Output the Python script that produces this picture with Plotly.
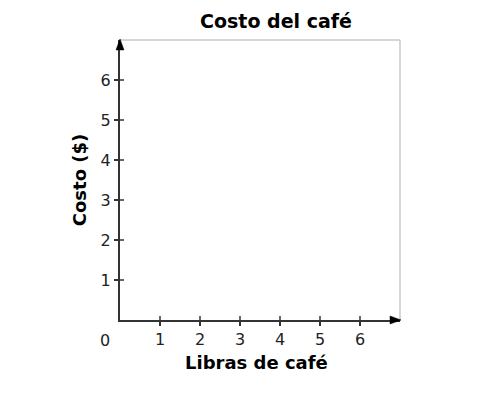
import plotly.graph_objects as go

x_ticks = [1, 2, 3, 4, 5, 6]
y_ticks = [1, 2, 3, 4, 5, 6]
x_range = [0, 7]
y_range = [0, 7]
title = "Costo del café"
x_title = "Libras de café"
y_title = "Costo ($)"

FONT = "DejaVu Sans, Verdana, sans-serif"
AX = "#333333"

fig = go.Figure()
fig.add_trace(go.Scatter(x=[None], y=[None], showlegend=False, hoverinfo="skip"))

shapes = []
# gray border top/right (paper refs avoid clipping)
shapes.append(dict(type="line", xref="paper", yref="paper", x0=0, x1=1, y0=1, y1=1,
                   line=dict(color="#c8c8c8", width=1.5)))
shapes.append(dict(type="line", xref="paper", yref="paper", x0=1, x1=1, y0=0, y1=1,
                   line=dict(color="#c8c8c8", width=1.5)))
# inside halves of crossing ticks
for v in x_ticks:
    shapes.append(dict(type="line", xref="x", yref="paper", ysizemode="pixel", yanchor=0,
                       x0=v, x1=v, y0=0, y1=4, line=dict(color=AX, width=1.5)))
for v in y_ticks:
    shapes.append(dict(type="line", xref="paper", yref="y", xsizemode="pixel", xanchor=0,
                       x0=0, x1=4, y0=v, y1=v, line=dict(color=AX, width=1.5)))
# arrowheads
shapes.append(dict(type="path", xref="paper", yref="paper", xsizemode="pixel", ysizemode="pixel",
                   xanchor=1, yanchor=0, path="M 1 0 L -10 4 L -10 -4 Z",
                   fillcolor="black", line=dict(color="black", width=0.5)))
shapes.append(dict(type="path", xref="paper", yref="paper", xsizemode="pixel", ysizemode="pixel",
                   xanchor=0, yanchor=1, path="M 0 1 L -4 -10 L 4 -10 Z",
                   fillcolor="black", line=dict(color="black", width=0.5)))

fig.update_layout(
    width=500, height=410,
    margin=dict(l=120, r=100, t=40, b=90),
    paper_bgcolor="white", plot_bgcolor="white",
    font=dict(family=FONT, size=16, color="#222222"),
    showlegend=False,
    title=dict(text="<b>" + title + "</b>", x=276 / 500, xanchor="center", y=1 - 21 / 410, yanchor="middle",
               font=dict(family=FONT, size=19, color="black")),
    xaxis=dict(range=x_range, tickvals=x_ticks, ticktext=[str(v) for v in x_ticks],
               showgrid=False, zeroline=False, showline=True, linecolor=AX, linewidth=2,
               ticks="outside", ticklen=4, tickwidth=1.5, tickcolor=AX, fixedrange=True),
    yaxis=dict(range=y_range, tickvals=y_ticks, ticktext=[str(v) for v in y_ticks],
               showgrid=False, zeroline=False, showline=True, linecolor=AX, linewidth=2,
               ticks="outside", ticklen=4, tickwidth=1.5, tickcolor=AX, fixedrange=True,
               title=dict(text="<b>" + y_title + "</b>", font=dict(family=FONT, size=18, color="black"), standoff=9)),
    shapes=shapes,
    annotations=[
        dict(x=0, y=0, xref="x", yref="y", text="0", showarrow=False,
             xshift=-15, yshift=-20, font=dict(family=FONT, size=16, color="#222222")),
        dict(x=(256 - 120) / 280, y=0, xref="paper", yref="paper", text="<b>" + x_title + "</b>",
             showarrow=False, xanchor="center", yanchor="middle", yshift=-42,
             font=dict(family=FONT, size=18, color="black")),
    ],
)

fig.write_html("out.html")
